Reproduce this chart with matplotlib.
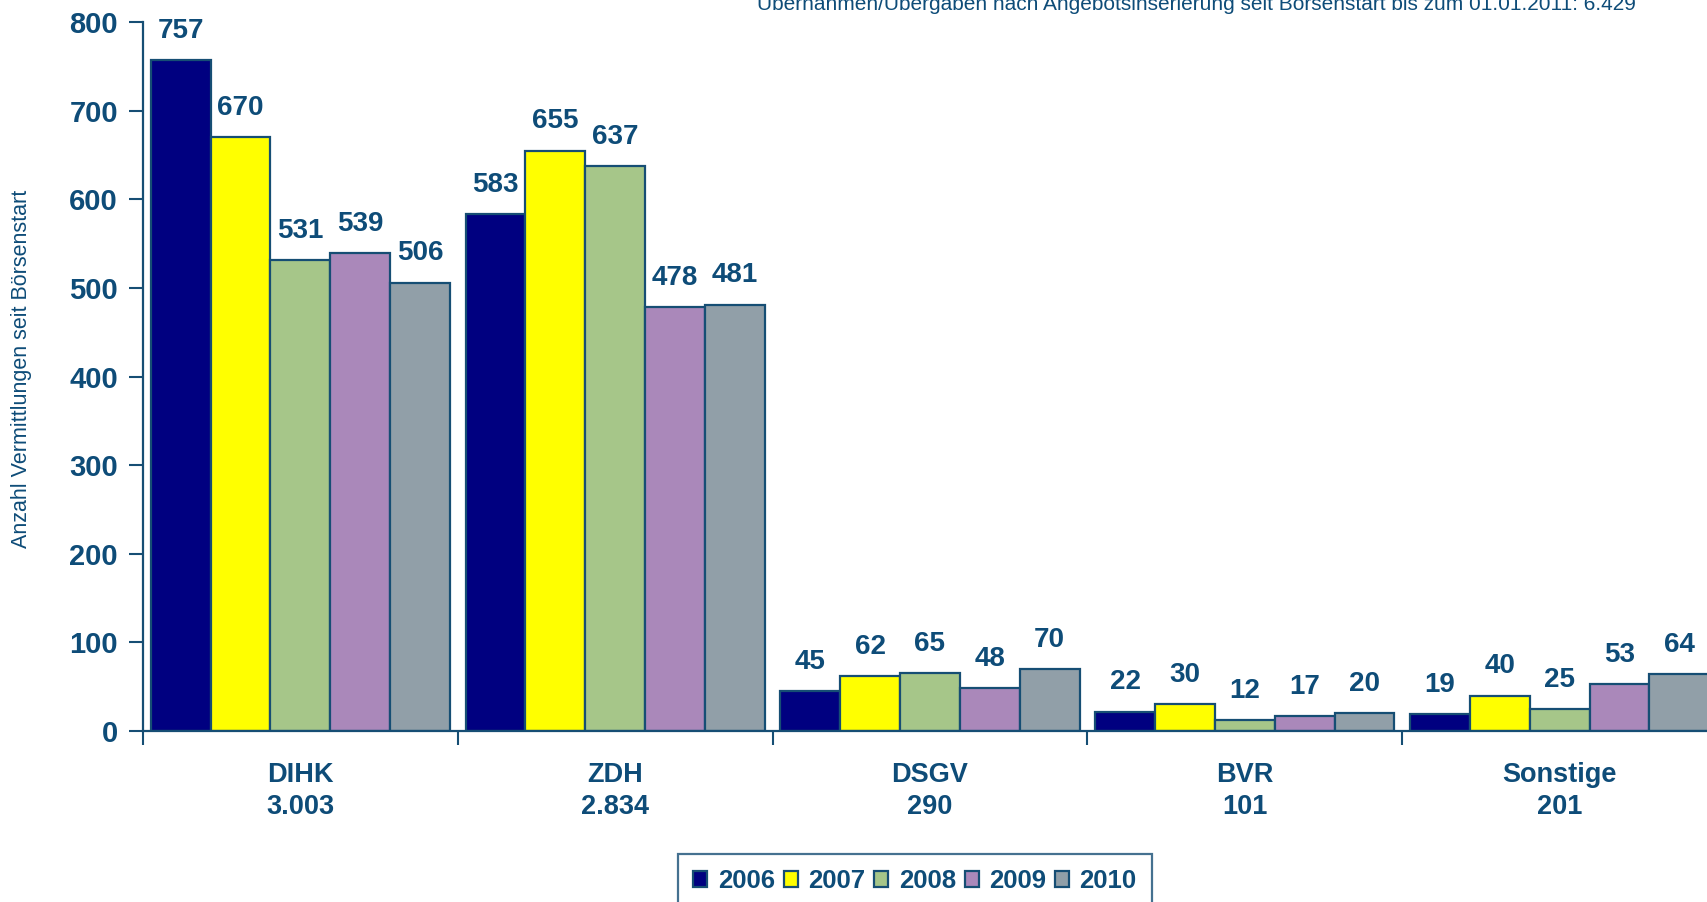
import matplotlib
matplotlib.use("Agg")
import matplotlib.pyplot as plt
from matplotlib.patches import Patch
import numpy as np

categories = ["DIHK", "ZDH", "DSGV", "BVR", "Sonstige"]
totals = ["3.003", "2.834", "290", "101", "201"]
years = ["2006", "2007", "2008", "2009", "2010"]
v2006 = [757, 583, 45, 22, 19]
v2007 = [670, 655, 62, 30, 40]
v2008 = [531, 637, 65, 12, 25]
v2009 = [539, 478, 48, 17, 53]
v2010 = [506, 481, 70, 20, 64]
series = [v2006, v2007, v2008, v2009, v2010]
colors = ["#000080", "#FFFF00", "#A6C689", "#AA88BA", "#919FA8"]
title_text = "Übernahmen/Übergaben nach Angebotsinserierung seit Börsenstart bis zum 01.01.2011: 6.429"
ylabel = "Anzahl Vermittlungen seit Börsenstart"

TXT = "#0E4C78"
EDGE = "#164E74"
plt.rcParams['font.family'] = ['Liberation Sans', 'DejaVu Sans']

W, H = 1708, 902
fig = plt.figure(figsize=(W / 100, H / 100), dpi=100)
ax_left = 143 / W
ax_right = 1717 / W
ax_bottom = 1 - 731 / H
ax_top = 1 - 22 / H
ax = fig.add_axes([ax_left, ax_bottom, ax_right - ax_left, ax_top - ax_bottom])

x = np.arange(len(categories))
bw = 0.19
for i, (vals, c) in enumerate(zip(series, colors)):
    pos = x + (i - 2) * bw
    bars = ax.bar(pos, vals, width=bw, color=c, edgecolor=EDGE, linewidth=1.6, label=years[i], zorder=2)
    for b, v in zip(bars, vals):
        ax.annotate(str(v), (b.get_x() + b.get_width() / 2, v), xytext=(0, 16),
                    textcoords="offset points", ha="center", va="baseline",
                    fontsize=20, fontweight="bold", color=TXT)

ax.set_xlim(-0.5, len(categories) - 0.5)
ax.set_ylim(0, 800)
ax.set_yticks(np.arange(0, 801, 100))
ax.tick_params(axis='y', direction='out', length=10, width=1.5, color=EDGE,
               labelsize=21, labelcolor=TXT, pad=8)
for lab in ax.get_yticklabels():
    lab.set_fontweight('bold')

ax.set_xticks(np.arange(-0.5, len(categories) + 0.5, 1.0))
ax.set_xticklabels([])
ax.tick_params(axis='x', which='major', direction='out', length=10, width=1.5, color=EDGE)
ax.set_xticks(x, minor=True)
ax.set_xticklabels([f"{c}\n{t}" for c, t in zip(categories, totals)], minor=True,
                   fontsize=19.5, fontweight='bold', color=TXT, linespacing=1.3)
ax.tick_params(axis='x', which='minor', length=0, pad=22)

for s in ['top', 'right']:
    ax.spines[s].set_visible(False)
for s in ['left', 'bottom']:
    ax.spines[s].set_color(EDGE)
    ax.spines[s].set_linewidth(1.6)

fig.text(22 / W, 1 - 369 / H, ylabel, rotation=90, ha='center', va='center',
         fontsize=15.5, color=TXT)
fig.text(1636 / W, 1 - 10 / H, title_text, ha='right', va='baseline',
         fontsize=15, color=TXT)

handles = [Patch(facecolor=c, edgecolor=EDGE, linewidth=1.6) for c in colors]
leg = fig.legend(handles, years, loc='upper center', bbox_to_anchor=(915 / W, 1 - 841 / H),
                 ncol=5, frameon=True, fancybox=False, handlelength=0.55, handleheight=0.55,
                 handletextpad=0.4, columnspacing=0.35, borderpad=0.6,
                 prop={'size': 18.5, 'weight': 'bold'})
leg.get_frame().set_edgecolor(EDGE)
leg.get_frame().set_linewidth(1.6)
for t in leg.get_texts():
    t.set_color(TXT)

fig.savefig("out.png", dpi=100)
